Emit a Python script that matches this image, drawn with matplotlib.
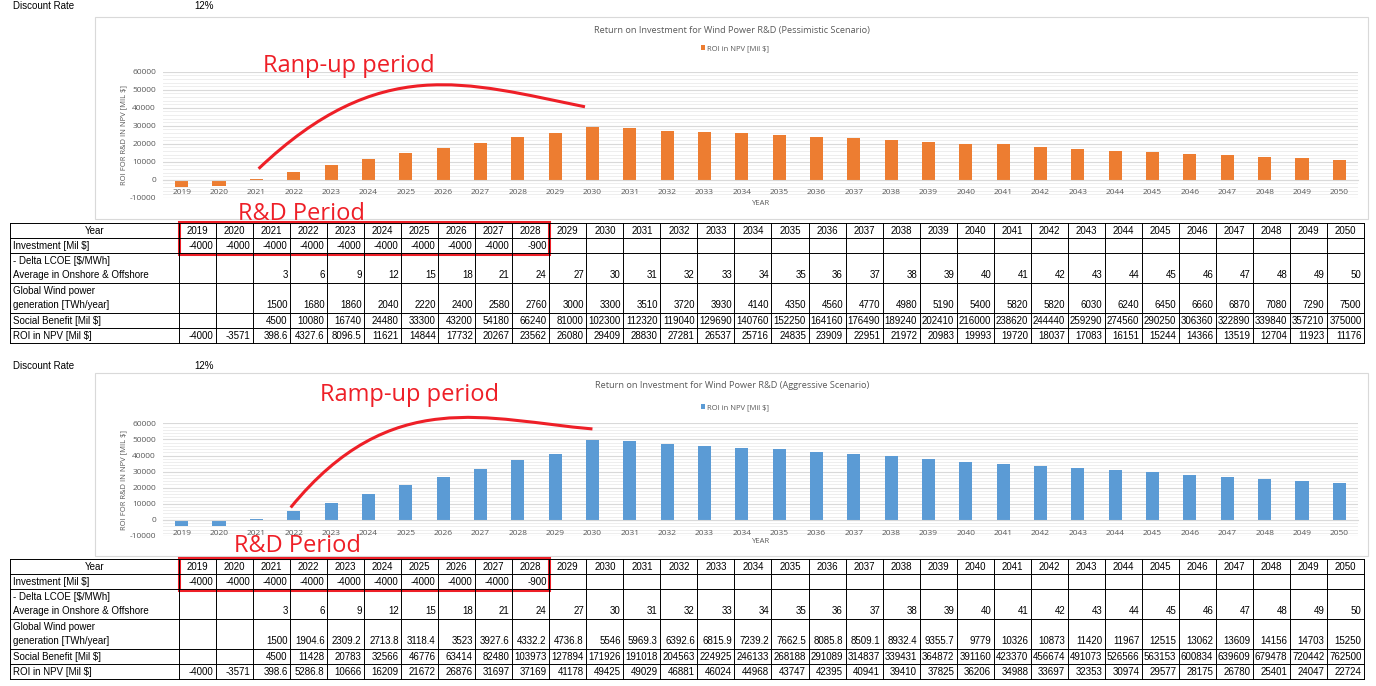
import numpy as np
import matplotlib
matplotlib.use('Agg')
import matplotlib.pyplot as plt
from matplotlib.path import Path
from matplotlib.patches import PathPatch, Rectangle
from matplotlib.ticker import MultipleLocator

plt.rcParams['axes.unicode_minus'] = False

years = list(range(2019, 2051))
discount_rate = "12%"

investment = [-4000, -4000, -4000, -4000, -4000, -4000, -4000, -4000, -4000, -900] + [None] * 22
delta_lcoe = [None, None, 3, 6, 9, 12, 15, 18, 21, 24, 27, 30, 31, 32, 33, 34, 35, 36, 37, 38,
              39, 40, 41, 42, 43, 44, 45, 46, 47, 48, 49, 50]

# pessimistic scenario
gen_pess = [None, None, 1500, 1680, 1860, 2040, 2220, 2400, 2580, 2760, 3000, 3300, 3510, 3720,
            3930, 4140, 4350, 4560, 4770, 4980, 5190, 5400, 5820, 5820, 6030, 6240, 6450, 6660,
            6870, 7080, 7290, 7500]
benefit_pess = [None, None, 4500, 10080, 16740, 24480, 33300, 43200, 54180, 66240, 81000, 102300,
                112320, 119040, 129690, 140760, 152250, 164160, 176490, 189240, 202410, 216000,
                238620, 244440, 259290, 274560, 290250, 306360, 322890, 339840, 357210, 375000]
roi_pess = [-4000, -3571, 398.6, 4327.6, 8096.5, 11621, 14844, 17732, 20267, 23562, 26080, 29409,
            28830, 27281, 26537, 25716, 24835, 23909, 22951, 21972, 20983, 19993, 19720, 18037,
            17083, 16151, 15244, 14366, 13519, 12704, 11923, 11176]

# aggressive scenario
gen_aggr = [None, None, 1500, 1904.6, 2309.2, 2713.8, 3118.4, 3523, 3927.6, 4332.2, 4736.8, 5546,
            5969.3, 6392.6, 6815.9, 7239.2, 7662.5, 8085.8, 8509.1, 8932.4, 9355.7, 9779, 10326,
            10873, 11420, 11967, 12515, 13062, 13609, 14156, 14703, 15250]
benefit_aggr = [None, None, 4500, 11428, 20783, 32566, 46776, 63414, 82480, 103973, 127894, 171926,
                191018, 204563, 224925, 246133, 268188, 291089, 314837, 339431, 364872, 391160,
                423370, 456674, 491073, 526566, 563153, 600834, 639609, 679478, 720442, 762500]
roi_aggr = [-4000, -3571, 398.6, 5286.8, 10666, 16209, 21672, 26876, 31697, 37169, 41178, 49425,
            49029, 46881, 46024, 44968, 43747, 42395, 40941, 39410, 37825, 36206, 34988, 33697,
            32353, 30974, 29577, 28175, 26780, 25401, 24047, 22724]

RED = '#EE1F27'
GRAY_TXT = '#595959'
W, H = 1376, 686

fig = plt.figure(figsize=(W / 100, H / 100), dpi=100)
fig.patch.set_facecolor('white')


def fx(px):
    return px / W


def fy(py):
    return 1 - py / H


def draw_chart(top_px, bot_px, roi, color, curve):
    ax = fig.add_axes([fx(163), fy(bot_px), fx(1358) - fx(163), fy(top_px) - fy(bot_px)])
    x = np.arange(len(years))
    bars = ax.bar(x, roi, width=0.35, color=color, label='ROI in NPV [Mil $]', zorder=3)
    ax.set_xlim(-0.5, len(years) - 0.5)
    ax.set_ylim(-10000, 60000)
    ax.yaxis.set_major_locator(MultipleLocator(10000))
    ax.yaxis.set_minor_locator(MultipleLocator(2000))
    ax.grid(which='major', axis='y', color='#D9D9D9', lw=0.8)
    ax.grid(which='minor', axis='y', color='#EEEEEE', lw=0.7)
    ax.set_axisbelow(True)
    ax.xaxis.set_zorder(2)
    for s in ['top', 'right', 'left']:
        ax.spines[s].set_visible(False)
    ax.spines['bottom'].set_position(('data', 0))
    ax.spines['bottom'].set_color('#D9D9D9')
    ax.spines['bottom'].set_zorder(4)
    ax.set_xticks(x)
    ax.set_xticklabels([str(y) for y in years], family='Open Sans')
    for lab in ax.get_yticklabels():
        lab.set_family('Open Sans')
    ax.tick_params(axis='both', which='both', length=0, labelsize=6, labelcolor=GRAY_TXT)
    ax.tick_params(axis='x', pad=7)
    ax.tick_params(axis='y', pad=5)
    ax.set_ylabel('ROI FOR R&D IN NPV [MIL $]', fontsize=5.5, color=GRAY_TXT, family='Open Sans')
    ax.yaxis.set_label_coords(-0.030, 0.5)
    ax.text(0.5, -0.045, 'YEAR', transform=ax.transAxes, ha='center', va='center',
            fontsize=5.5, color=GRAY_TXT, family='Open Sans')
    codes = [Path.MOVETO, Path.CURVE4, Path.CURVE4, Path.CURVE4]
    ax.add_patch(PathPatch(Path(curve, codes), fill=False, ec=RED, lw=2.2,
                           clip_on=False, zorder=6, capstyle='butt'))
    return ax, bars


# red ramp-up curves (annotation, in data units)
curve_pess = [(2.06, 6100), (5.3, 70000), (7.6, 54000), (10.8, 40500)]
curve_aggr = [(2.92, 7700), (5.6, 84000), (8.2, 62000), (11.0, 56500)]

ax1, bars1 = draw_chart(71.7, 197.7, roi_pess, '#ED7D31', curve_pess)
ax2, bars2 = draw_chart(423.3, 536.0, roi_aggr, '#5B9BD5', curve_aggr)

for bars, ly in [(bars1, 49), (bars2, 408)]:
    fig.legend(handles=[bars], loc='center', bbox_to_anchor=(fx(735), fy(ly)), frameon=False,
               prop={'family': 'Open Sans', 'size': 5.5}, handlelength=0.6, handleheight=0.6,
               handletextpad=0.3, labelcolor=GRAY_TXT)

# overlay in pixel coordinates for the sheet cells
ov = fig.add_axes([0, 0, 1, 1], zorder=10)
ov.set_xlim(0, W)
ov.set_ylim(H, 0)
ov.axis('off')
ov.patch.set_visible(False)

# chart frames
ov.add_patch(Rectangle((95, 17), 1273, 202, fill=False, ec='#D9D9D9', lw=0.8))
ov.add_patch(Rectangle((95, 373), 1273, 183, fill=False, ec='#D9D9D9', lw=0.8))

ov.text(732, 30, 'Return on Investment for Wind Power R&D (Pessimistic Scenario)', ha='center',
        va='center', fontsize=6.6, color=GRAY_TXT, family='Open Sans')
ov.text(732, 386, 'Return on Investment for Wind Power R&D (Aggressive Scenario)', ha='center',
        va='center', fontsize=6.6, color=GRAY_TXT, family='Open Sans')

CELL = dict(family='Liberation Sans', fontsize=7, color='black')


def fmt(v):
    return '' if v is None else '{:g}'.format(v)


def draw_table(top, gen, benefit, roi):
    offs = [0, 15, 30, 60, 90, 105, 120]
    x0, x1, cw = 10.3, 179.0, 37.03
    xr = x1 + cw * len(years)
    for o in offs:
        ov.plot([x0, xr], [top + o, top + o], color='black', lw=0.7)
    bottom = top + offs[-1]
    ov.plot([x0, x0], [top, bottom], color='black', lw=0.7)
    for k in range(len(years) + 1):
        xx = x1 + cw * k
        ov.plot([xx, xx], [top, bottom], color='black', lw=0.7)
    # label column
    ov.text((x0 + x1) / 2, top + 7.5, 'Year', ha='center', va='center', **CELL)
    ov.text(13, top + 22.5, 'Investment [Mil $]', ha='left', va='center', **CELL)
    ov.text(13, top + 37.5, '- Delta LCOE [$/MWh]', ha='left', va='center', **CELL)
    ov.text(13, top + 52, 'Average in Onshore & Offshore', ha='left', va='center', **CELL)
    ov.text(13, top + 67.5, 'Global Wind power', ha='left', va='center', **CELL)
    ov.text(13, top + 82, 'generation [TWh/year]', ha='left', va='center', **CELL)
    ov.text(13, top + 97.5, 'Social Benefit [Mil $]', ha='left', va='center', **CELL)
    ov.text(13, top + 112.5, 'ROI in NPV [Mil $]', ha='left', va='center', **CELL)
    for k, yr in enumerate(years):
        cx = x1 + cw * k
        rx = cx + cw - 2.5
        ov.text(cx + cw / 2, top + 7.5, str(yr), ha='center', va='center', **CELL)
        ov.text(rx, top + 22.5, fmt(investment[k]), ha='right', va='center', **CELL)
        ov.text(rx, top + 52, fmt(delta_lcoe[k]), ha='right', va='center', **CELL)
        ov.text(rx, top + 82, fmt(gen[k]), ha='right', va='center', **CELL)
        ov.text(rx, top + 97.5, fmt(benefit[k]), ha='right', va='center', **CELL)
        ov.text(rx, top + 112.5, fmt(roi[k]), ha='right', va='center', **CELL)
    # R&D period box
    ov.add_patch(Rectangle((x1, top - 1.5), cw * 10, 32.5, fill=False, ec=RED, lw=2.2))


draw_table(223.3, gen_pess, benefit_pess, roi_pess)
draw_table(559.3, gen_aggr, benefit_aggr, roi_aggr)

for y in [6, 366]:
    ov.text(13, y, 'Discount Rate', ha='left', va='center', **CELL)
    ov.text(204, y, discount_rate, ha='center', va='center', **CELL)

RT = dict(color=RED, fontsize=17, family='Open Sans', va='center', ha='left')
ov.text(263, 66, 'Ranp-up period', **RT)
ov.text(238, 214, 'R&D Period', **RT)
ov.text(320, 395, 'Ramp-up period', **RT)
ov.text(234, 546, 'R&D Period', **RT)

fig.savefig('out.png', dpi=100, facecolor='white')
